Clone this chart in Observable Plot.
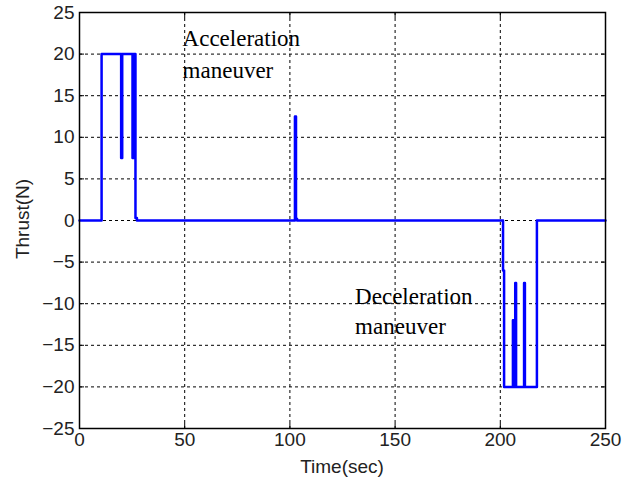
<!DOCTYPE html>
<html><head><meta charset="utf-8">
<script src="https://cdn.jsdelivr.net/npm/d3@7"></script>
<script src="https://cdn.jsdelivr.net/npm/@observablehq/plot@0.6"></script>
<style>
html,body{margin:0;padding:0;background:#fff;}
</style></head>
<body><div id="chart"></div>
<script>
// Thrust profile (piecewise-constant)
const time   = [0, 10.5, 10.5, 19.8, 19.8, 20.3, 20.3, 25.2, 25.2, 25.7, 25.7, 26.1, 26.1, 26.5, 26.5, 26.6, 26.6, 27.3, 27.3, 102.4, 102.4, 102.9, 102.9, 103.4, 103.4, 201.3, 201.3, 201.8, 201.8, 206.0, 206.0, 206.3, 206.3, 207.1, 207.1, 207.5, 207.5, 211.3, 211.3, 211.7, 211.7, 217.4, 217.4, 250];
const thrust = [0, 0,    20,   20,   7.5,  7.5,  20,   20,   7.5,  7.5,  20,   20,   7.5,  7.5,  20,   20,   0.3,  0.3,  0,    0,     12.5,  12.5,  0.2,   0.2,   0,     0,     -6,    -6,    -20,   -20,   -12,   -12,   -20,   -20,   -7.5,  -7.5,  -20,   -20,   -7.5,  -7.5,  -20,   -20,   0,     0];
const xTicks = [0, 50, 100, 150, 200, 250];
const yTicks = [-25, -20, -15, -10, -5, 0, 5, 10, 15, 20, 25];
const noteText = ["Acceleration", "maneuver", "Deceleration", "maneuver"];
const noteX    = [49, 49, 131, 131];
const noteY    = [21.8, 18.0, -9.1, -12.8];

const data = time.map((t, i) => ({t, f: thrust[i]}));
const notes = noteText.map((s, i) => ({s, x: noteX[i], y: noteY[i]}));
const sans = "Liberation Sans, Arial, sans-serif";

const chart = Plot.plot({
  width: 623, height: 484,
  marginLeft: 79, marginRight: 18, marginTop: 12, marginBottom: 56,
  style: {fontFamily: sans, fontSize: "19px", color: "#000", background: "#fff"},
  x: {domain: [0, 250], ticks: xTicks},
  y: {domain: [-25, 25], ticks: yTicks},
  marks: [
    Plot.gridX(xTicks.slice(1, -1), {stroke: "#000", strokeOpacity: 1, strokeWidth: 1, strokeDasharray: "3,3"}),
    Plot.gridY(yTicks.slice(1, -1), {stroke: "#000", strokeOpacity: 1, strokeWidth: 1, strokeDasharray: "3,3"}),
    Plot.axisX(xTicks, {tickSize: -5, tickPadding: 9, label: null, fontSize: 19, fill: "#222"}),
    Plot.axisY(yTicks, {tickSize: -5, tickPadding: 10, label: null, fontSize: 19, fill: "#222"}),
    Plot.axisX(xTicks, {anchor: "top", tickSize: -5, tickFormat: () => "", label: null}),
    Plot.axisY(yTicks, {anchor: "right", tickSize: -5, tickFormat: () => "", label: null}),
    Plot.line(data, {x: "t", y: "f", stroke: "#0000ff", strokeWidth: 2.5, curve: "linear"}),
    Plot.text(notes, {x: "x", y: "y", text: "s", textAnchor: "start", fontFamily: "Liberation Serif, Times New Roman, serif", fontSize: 23, fill: "#000"}),
    Plot.frame({stroke: "#000", strokeWidth: 1.5})
  ]
});

const svg = d3.select(chart);
svg.append("text").attr("x", 79 + (605 - 79) / 2).attr("y", 473).attr("text-anchor", "middle")
  .attr("font-size", 19).attr("fill", "#222").attr("font-family", sans).text("Time(sec)");
svg.append("text").attr("transform", "translate(29,219) rotate(-90)").attr("text-anchor", "middle")
  .attr("font-size", 19).attr("fill", "#222").attr("font-family", sans).text("Thrust(N)");

document.getElementById("chart").appendChild(chart);
</script></body></html>
